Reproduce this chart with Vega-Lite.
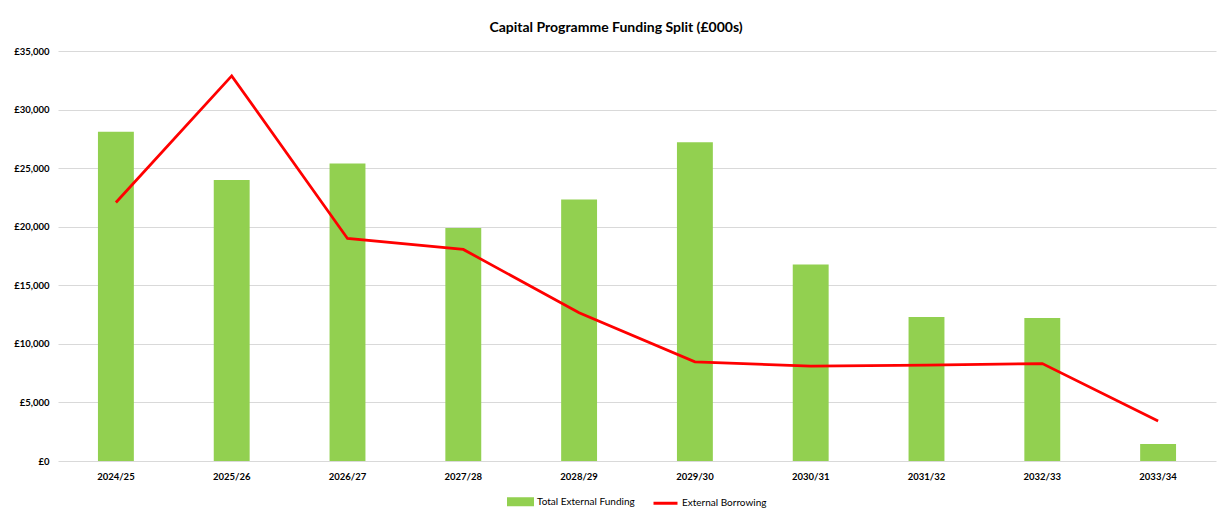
{
  "$schema": "https://vega.github.io/schema/vega-lite/v6.json",
  "width": 1158,
  "height": 410,
  "autosize": "none",
  "padding": {"left": 58, "top": 51, "right": 14, "bottom": 54},
  "background": "white",
  "title": {
    "text": "Capital Programme Funding Split (£000s)",
    "font": "Lato",
    "fontSize": 14,
    "fontWeight": "bold",
    "color": "#000000",
    "anchor": "middle",
    "dx": -21,
    "offset": 11
  },
  "config": {
    "view": {"stroke": null},
    "font": "Lato",
    "axis": {
      "labelFont": "Lato",
      "labelFontWeight": "bold",
      "labelFontSize": 9.5,
      "labelColor": "#000000",
      "ticks": false,
      "domain": false,
      "title": null
    },
    "legend": {
      "labelFont": "Lato",
      "labelFontSize": 10,
      "labelColor": "#000000",
      "title": null,
      "layout": {"bottom": {"anchor": "middle", "direction": "horizontal"}}
    }
  },
  "data": {
    "values": [
      {"year": "2024/25", "funding": 28100, "borrowing": 22070},
      {"year": "2025/26", "funding": 23980, "borrowing": 32880},
      {"year": "2026/27", "funding": 25400, "borrowing": 19000},
      {"year": "2027/28", "funding": 19880, "borrowing": 18060},
      {"year": "2028/29", "funding": 22330, "borrowing": 12650},
      {"year": "2029/30", "funding": 27220, "borrowing": 8470},
      {"year": "2030/31", "funding": 16780, "borrowing": 8100},
      {"year": "2031/32", "funding": 12290, "borrowing": 8190},
      {"year": "2032/33", "funding": 12200, "borrowing": 8320},
      {"year": "2033/34", "funding": 1450, "borrowing": 3410}
    ]
  },
  "encoding": {
    "x": {
      "field": "year",
      "type": "nominal",
      "sort": null,
      "scale": {"paddingInner": 0.69, "paddingOuter": 0.345},
      "axis": {"labelAngle": 0, "labelPadding": 10, "grid": false}
    }
  },
  "layer": [
    {
      "mark": {"type": "bar"},
      "encoding": {
        "y": {
          "field": "funding",
          "type": "quantitative",
          "scale": {"domain": [0, 35000], "nice": false},
          "axis": {
            "values": [0, 5000, 10000, 15000, 20000, 25000, 30000, 35000],
            "labelExpr": "'£' + format(datum.value, ',')",
            "gridColor": "#D9D9D9",
            "gridWidth": 1,
            "labelPadding": 9
          }
        },
        "color": {
          "datum": "Total External Funding",
          "type": "nominal",
          "scale": {
            "domain": ["Total External Funding", "External Borrowing"],
            "range": ["#92D050", "#FF0000"]
          },
          "legend": {
            "orient": "bottom",
            "direction": "horizontal",
            "symbolSize": 576,
            "labelOffset": 3,
            "columnPadding": 12,
            "offset": 7,
            "encode": {
              "symbols": {
                "update": {
                  "shape": {"signal": "datum.value === 'External Borrowing' ? 'stroke' : 'M-1,-0.25H1V0.25H-1Z'"},
                  "fill": {"signal": "datum.value === 'External Borrowing' ? 'transparent' : '#92D050'"},
                  "stroke": {"signal": "datum.value === 'External Borrowing' ? '#FF0000' : 'transparent'"},
                  "strokeWidth": {"value": 3},
                  "opacity": {"value": 1}
                }
              }
            }
          }
        }
      }
    },
    {
      "mark": {"type": "line", "strokeWidth": 2.75},
      "encoding": {
        "y": {"field": "borrowing", "type": "quantitative"},
        "color": {"datum": "External Borrowing", "type": "nominal"}
      }
    }
  ]
}
